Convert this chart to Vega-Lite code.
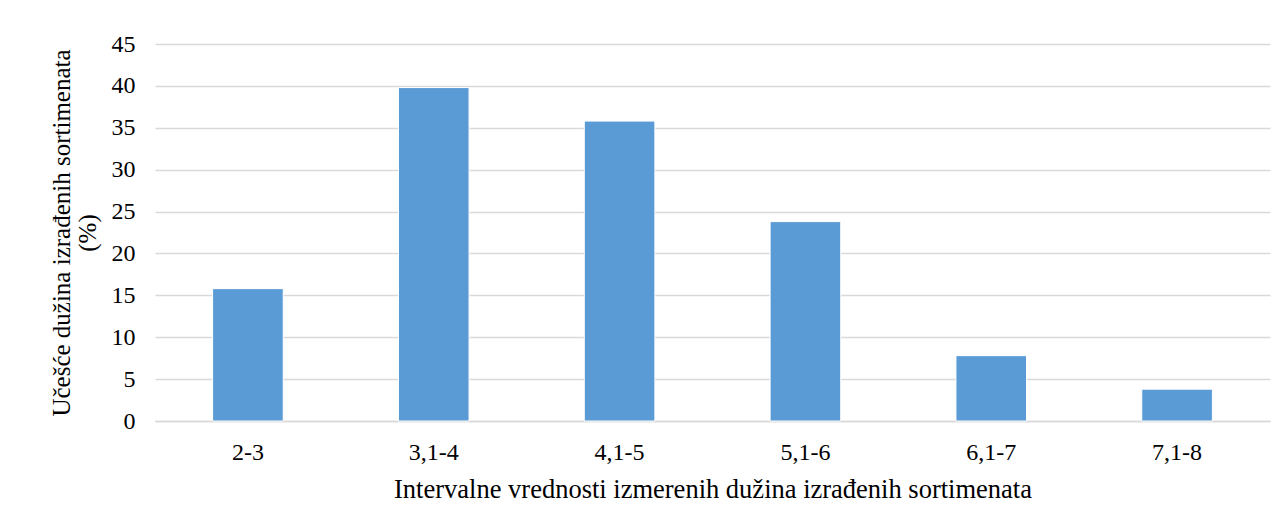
{
  "$schema": "https://vega.github.io/schema/vega-lite/v6.json",
  "autosize": "none",
  "width": 1115,
  "height": 377,
  "padding": {"left": 155, "top": 44, "right": 13, "bottom": 104},
  "background": "white",
  "config": {
    "view": {"stroke": null},
    "font": "Liberation Serif",
    "axis": {"labelFont": "Liberation Serif", "titleFont": "Liberation Serif", "labelColor": "#000000", "titleColor": "#000000", "titleFontWeight": "normal"}
  },
  "data": {
    "values": [
      {"interval": "2-3", "value": 15.8},
      {"interval": "3,1-4", "value": 39.8},
      {"interval": "4,1-5", "value": 35.8},
      {"interval": "5,1-6", "value": 23.8},
      {"interval": "6,1-7", "value": 7.8},
      {"interval": "7,1-8", "value": 3.8}
    ]
  },
  "mark": {"type": "bar", "color": "#5b9bd5", "stroke": "white", "strokeWidth": 1},
  "encoding": {
    "x": {
      "field": "interval",
      "type": "nominal",
      "sort": null,
      "scale": {"paddingInner": 0.62, "paddingOuter": 0.31},
      "axis": {
        "title": "Intervalne vrednosti izmerenih dužina izrađenih sortimenata",
        "titleFontSize": 26.5,
        "titlePadding": 12,
        "labelFontSize": 24,
        "labelAngle": 0,
        "labelPadding": 19,
        "ticks": false,
        "domainColor": "#d9d9d9",
        "domainWidth": 1.5,
        "grid": false
      }
    },
    "y": {
      "field": "value",
      "type": "quantitative",
      "scale": {"domain": [0, 45], "nice": false},
      "axis": {
        "title": ["Učešće dužina izrađenih sortimenata", "(%)"],
        "titleFontSize": 25,
        "titleLineHeight": 26,
        "titlePadding": 11,
        "labelFontSize": 24,
        "labelPadding": 20,
        "values": [0, 5, 10, 15, 20, 25, 30, 35, 40, 45],
        "ticks": false,
        "domain": false,
        "grid": true,
        "gridColor": "#d9d9d9",
        "gridWidth": 1.5
      }
    }
  }
}
